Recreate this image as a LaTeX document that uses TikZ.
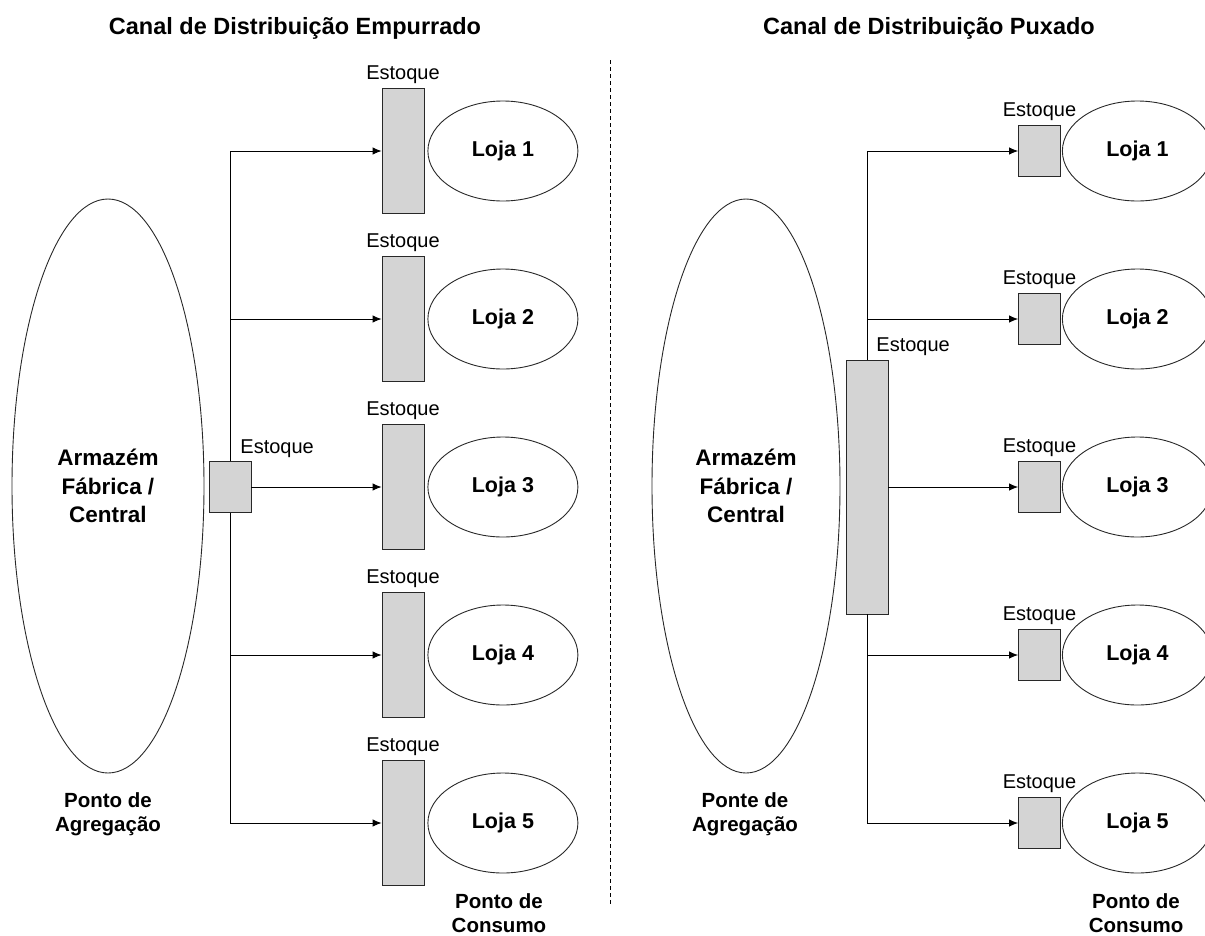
\documentclass[tikz,border=0pt]{standalone}
\usepackage{fontspec}
\setmainfont{Liberation Sans}
\usepackage{xcolor}
\usepackage{tikz}
\usetikzlibrary{shapes.geometric, arrows.meta, positioning}
\definecolor{stockgray}{RGB}{212,212,212}
\definecolor{edgegray}{RGB}{40,40,40}
\tikzstyle{stock} = [rectangle, draw=edgegray, fill=stockgray, minimum width=42pt, inner sep=0pt]
\tikzstyle{store} = [ellipse, draw=edgegray, minimum width=150pt, minimum height=100pt, inner sep=0pt, font=\bfseries\fontsize{21.5}{26}\selectfont]
\tikzstyle{hub} = [ellipse, draw=edgegray, inner sep=0pt, align=center, font=\bfseries\fontsize{22.5}{28.3}\selectfont]
\tikzstyle{tag} = [inner sep=0pt, font=\fontsize{20}{24}\selectfont]
\tikzstyle{heading} = [inner sep=0pt, font=\bfseries\fontsize{23.5}{28}\selectfont]
\tikzstyle{caption} = [inner sep=0pt, align=center, font=\bfseries\fontsize{20.5}{24}\selectfont]
\tikzstyle{line} = [draw, -{Latex[length=9pt, width=7.5pt]}]

\begin{document}
\begin{tikzpicture}[x=1pt, y=-1pt, line width=0.9pt]
    \useasboundingbox (0,0) rectangle (1205,935);

    % Titles and divider
    \node [heading, anchor=base] (titlePush) at (295,34) {Canal de Distribuição Empurrado};
    \node [heading, anchor=base] (titlePull) at (929,34) {Canal de Distribuição Puxado};
    \coordinate (divTop) at (610,60);
    \coordinate (divBot) at (610,905);
    \draw [dash pattern=on 4pt off 3pt, line width=0.8pt] (divTop) -- (divBot);

    % Push channel
    \node [hub, minimum width=192pt, minimum height=574pt] (whPush) at (108,486) {Armazém\\Fábrica /\\Central};
    \node [caption] (aggPush) at (108,814) {Ponto de\\Agregação};
    \node [stock, minimum height=51pt] (hubPush) at (230,487) {};
    \node [tag, anchor=base west] (hubPushTag) at (240,453) {Estoque};

    \node [stock, minimum height=125pt] (pushStock1) at (403,151) {};
    \node [stock, minimum height=125pt] (pushStock2) at (403,319) {};
    \node [stock, minimum height=125pt] (pushStock3) at (403,487) {};
    \node [stock, minimum height=125pt] (pushStock4) at (403,655) {};
    \node [stock, minimum height=125pt] (pushStock5) at (403,823) {};
    \node [tag, above=4pt of pushStock1] (pushTag1) {Estoque};
    \node [tag, above=4pt of pushStock2] (pushTag2) {Estoque};
    \node [tag, above=4pt of pushStock3] (pushTag3) {Estoque};
    \node [tag, above=4pt of pushStock4] (pushTag4) {Estoque};
    \node [tag, above=4pt of pushStock5] (pushTag5) {Estoque};
    \node [store, right=3pt of pushStock1] (pushStore1) {Loja 1};
    \node [store, right=3pt of pushStock2] (pushStore2) {Loja 2};
    \node [store, right=3pt of pushStock3] (pushStore3) {Loja 3};
    \node [store, right=3pt of pushStock4] (pushStore4) {Loja 4};
    \node [store, right=3pt of pushStock5] (pushStore5) {Loja 5};
    \node [caption] (usePush) at (499,913) {Ponto de\\Consumo};

    % Pull channel
    \node [hub, minimum width=188pt, minimum height=574pt] (whPull) at (746,486) {Armazém\\Fábrica /\\Central};
    \node [caption] (aggPull) at (745,814) {Ponte de\\Agregação};
    \node [stock, minimum height=254pt] (hubPull) at (867,487) {};
    \node [tag, anchor=base west] (hubPullTag) at (876,351) {Estoque};

    \node [stock, minimum height=51pt] (pullStock1) at (1039.5,151) {};
    \node [stock, minimum height=51pt] (pullStock2) at (1039.5,319) {};
    \node [stock, minimum height=51pt] (pullStock3) at (1039.5,487) {};
    \node [stock, minimum height=51pt] (pullStock4) at (1039.5,655) {};
    \node [stock, minimum height=51pt] (pullStock5) at (1039.5,823) {};
    \node [tag, above=4pt of pullStock1] (pullTag1) {Estoque};
    \node [tag, above=4pt of pullStock2] (pullTag2) {Estoque};
    \node [tag, above=4pt of pullStock3] (pullTag3) {Estoque};
    \node [tag, above=4pt of pullStock4] (pullTag4) {Estoque};
    \node [tag, above=4pt of pullStock5] (pullTag5) {Estoque};
    \node [store, right=1pt of pullStock1] (pullStore1) {Loja 1};
    \node [store, right=1pt of pullStock2] (pullStore2) {Loja 2};
    \node [store, right=1pt of pullStock3] (pullStore3) {Loja 3};
    \node [store, right=1pt of pullStock4] (pullStore4) {Loja 4};
    \node [store, right=1pt of pullStock5] (pullStore5) {Loja 5};
    \node [caption] (usePull) at (1136,913) {Ponto de\\Consumo};

    % Edges
    \path [line] (hubPush.north) |- (pushStock1);
    \path [line] (hubPush.north) |- (pushStock2);
    \path [line] (hubPush) -- (pushStock3);
    \path [line] (hubPush.south) |- (pushStock4);
    \path [line] (hubPush.south) |- (pushStock5);
    \path [line] (hubPull.north) |- (pullStock1);
    \path [line] (hubPull.north) |- (pullStock2);
    \path [line] (hubPull) -- (pullStock3);
    \path [line] (hubPull.south) |- (pullStock4);
    \path [line] (hubPull.south) |- (pullStock5);
\end{tikzpicture}
\end{document}
